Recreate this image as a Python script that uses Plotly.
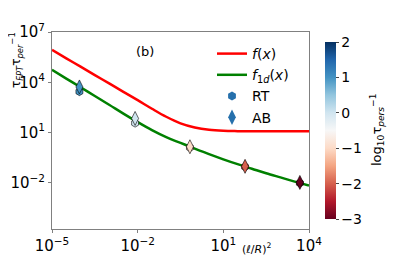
import plotly.graph_objects as go

# curve samples (log10 units)
curve_logx = [-5, -4.5, -4, -3.5, -3, -2.5, -2, -1.5, -1, -0.5, 0, 0.5, 1, 1.5, 2, 2.5, 3, 3.5, 4]
f_logy = [5.93, 5.43, 4.93, 4.43, 3.93, 3.43, 2.93, 2.42, 1.94, 1.55, 1.30, 1.16, 1.10, 1.08, 1.07, 1.07, 1.07, 1.07, 1.07]
f1d_logy = [4.74, 4.22, 3.70, 3.18, 2.66, 2.13, 1.62, 1.14, 0.72, 0.38, 0.04, -0.29, -0.60, -0.89, -1.16, -1.43, -1.68, -1.93, -2.17]

# scatter points (log10 units)
pts_logx = [-4.04, -2.09, -0.17, 1.76, 3.68]
rt_logy = [3.44, 1.56, 0.10, -1.05, -2.02]
ab_logy = [3.72, 1.84, 0.15, -1.02, -1.98]
color_vals = [1.0, 0.0, -1.0, -2.0, -3.0]

# tick labels
x_tick_exp = [-5, -2, 1, 4]
y_tick_exp = [-2, 1, 4, 7]
cbar_ticks = [-3, -2, -1, 0, 1, 2]

rdbu = [[0.0, "rgb(103,0,31)"], [0.1, "rgb(178,24,43)"], [0.2, "rgb(214,96,77)"],
        [0.3, "rgb(244,165,130)"], [0.4, "rgb(253,219,199)"], [0.5, "rgb(247,247,247)"],
        [0.6, "rgb(209,229,240)"], [0.7, "rgb(146,197,222)"], [0.8, "rgb(67,147,195)"],
        [0.9, "rgb(33,102,172)"], [1.0, "rgb(5,48,97)"]]
LEGEND_MARKER = "rgb(38,112,172)"


def pw(e):
    s = str(e).replace("-", "−")
    return "10<sup>" + s + "</sup>"


cx = [10 ** v for v in curve_logx]
px_ = [10 ** v for v in pts_logx]

# the page body adds an 8px margin, so the figure is drawn 8px smaller and offset
OFF = 8
FONT = "DejaVu Sans"
fig = go.Figure()
fig.add_trace(go.Scatter(x=cx, y=[10 ** v for v in f_logy], mode="lines", line=dict(color="#ff0000", width=2.5, shape="spline"),
                         name="<i>f</i>(<i>x</i>)"))
fig.add_trace(go.Scatter(x=cx, y=[10 ** v for v in f1d_logy], mode="lines", line=dict(color="#008000", width=2.5, shape="spline"),
                         name="<i>f</i><sub>1<i>d</i></sub>(<i>x</i>)"))
fig.add_trace(go.Scatter(x=px_, y=[10 ** v for v in rt_logy], mode="markers", name="RT", showlegend=False,
                         marker=dict(symbol="hexagon", size=8, color=color_vals, colorscale=rdbu, cmin=-3, cmax=2,
                                     line=dict(color="black", width=0.6), showscale=False)))
fig.add_trace(go.Scatter(x=px_, y=[10 ** v for v in ab_logy], mode="markers", name="AB", showlegend=False,
                         marker=dict(symbol="diamond-tall", size=10, color=color_vals, colorscale=rdbu, cmin=-3, cmax=2,
                                     line=dict(color="black", width=0.6), showscale=True,
                                     colorbar=dict(x=(325 - 52) / 257, xanchor="left", xref="paper", xpad=0, y=0.5, len=1,
                                                   lenmode="fraction", thickness=11, outlinewidth=0,
                                                   tickvals=cbar_ticks, ticks="outside", ticklen=3,
                                                   tickfont=dict(family=FONT, size=14, color="black")))))
# legend entries for the scatter series (single colour, as in the reference legend)
fig.add_trace(go.Scatter(x=[None], y=[None], mode="markers", name="RT",
                         marker=dict(symbol="hexagon", size=9, color=LEGEND_MARKER, line=dict(width=0))))
fig.add_trace(go.Scatter(x=[None], y=[None], mode="markers", name="AB",
                         marker=dict(symbol="diamond-tall", size=11, color=LEGEND_MARKER, line=dict(width=0))))

fig.update_layout(
    width=415 - OFF, height=262 - OFF, margin=dict(l=52 - OFF, r=106, t=32 - OFF, b=33, autoexpand=False),
    paper_bgcolor="white", plot_bgcolor="white",
    font=dict(family=FONT, color="black"),
    legend=dict(x=(212 - 52) / 257, y=(229 - 38) / 197, xanchor="left", yanchor="top",
                font=dict(family=FONT, size=14), bgcolor="rgba(0,0,0,0)", tracegroupgap=0),
)
fig.update_xaxes(type="log", range=[-5, 4], tickvals=[10 ** e for e in x_tick_exp], ticktext=[pw(e) for e in x_tick_exp],
                 showgrid=False, zeroline=False, automargin=False,
                 showline=True, linecolor="#808080", linewidth=1, mirror=True, ticks="outside", ticklen=3,
                 tickcolor="#808080", tickfont=dict(family=FONT, size=15))
fig.update_yaxes(type="log", range=[-4.76, 7], tickvals=[10 ** e for e in y_tick_exp], ticktext=[pw(e) for e in y_tick_exp],
                 showgrid=False, zeroline=False, automargin=False,
                 showline=True, linecolor="#808080", linewidth=1, mirror=True, ticks="outside", ticklen=3,
                 tickcolor="#808080", tickfont=dict(family=FONT, size=15))

anns = [
    dict(x=(145 - 52) / 257, y=(229 - 52) / 197, text="(b)", size=13, angle=0),
    dict(x=(257 - 52) / 257, y=(229 - 248) / 197, text="(<i>ℓ</i>/<i>R</i>)<sup>2</sup>", size=11, angle=0),
    dict(x=(16 - 52) / 257, y=(229 - 60) / 197, text="τ<sub><i>FPT</i></sub>τ<sub><i>per</i></sub><sup>−1</sup>", size=12, angle=-90),
    dict(x=(377 - 52) / 257, y=(229 - 130) / 197, text="log<sub>10</sub>τ<sub><i>pers</i></sub><sup>−1</sup>", size=13, angle=-90),
]
for a in anns:
    fig.add_annotation(x=a["x"], y=a["y"], xref="paper", yref="paper", text=a["text"], showarrow=False,
                       textangle=a["angle"], font=dict(family=FONT, size=a["size"], color="black"),
                       xanchor="center", yanchor="middle")

fig.write_html("out.html")
